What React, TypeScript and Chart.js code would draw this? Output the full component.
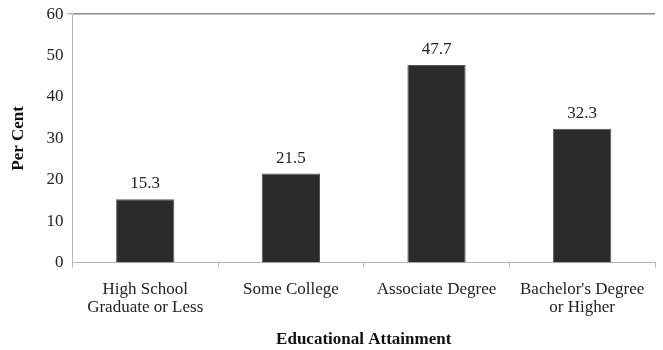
import React, { useEffect, useRef } from "react";
import { Chart, registerables } from "chart.js";

Chart.register(...registerables);

const categories: (string | string[])[] = [
  ["High School", "Graduate or Less"],
  "Some College",
  "Associate Degree",
  ["Bachelor's Degree", "or Higher"],
];
const values = [15.3, 21.5, 47.7, 32.3];
const yTicks = [0, 10, 20, 30, 40, 50, 60];

const FONT = "'Liberation Serif', 'Times New Roman', serif";

const valueLabels = {
  id: "valueLabels",
  afterDatasetsDraw(chart: any) {
    const ctx = chart.ctx;
    const meta = chart.getDatasetMeta(0);
    ctx.save();
    ctx.font = `17px ${FONT}`;
    ctx.fillStyle = "#222";
    ctx.textAlign = "center";
    ctx.textBaseline = "alphabetic";
    meta.data.forEach((bar: any, i: number) => {
      ctx.fillText(values[i].toFixed(1), bar.x, bar.y - 11);
    });
    ctx.restore();
  },
};

export default function App() {
  const ref = useRef<HTMLCanvasElement>(null);
  useEffect(() => {
    if (!ref.current) return;
    const chart = new Chart(ref.current, {
      type: "bar",
      data: {
        labels: categories,
        datasets: [
          {
            data: values,
            backgroundColor: "#2b2b2b",
            borderColor: "#555",
            borderWidth: 1,
            barPercentage: 0.4,
            categoryPercentage: 1,
          },
        ],
      },
      options: {
        animation: false,
        responsive: false,
        maintainAspectRatio: false,
        layout: { padding: { top: 10, right: 8, left: 8, bottom: 0 } },
        plugins: {
          legend: { display: false },
          tooltip: { enabled: false },
        },
        scales: {
          x: {
            border: { color: "#b5b5b5", width: 1 },
            grid: {
              offset: true,
              drawOnChartArea: false,
              drawTicks: true,
              tickLength: 5,
              tickColor: "#b5b5b5",
            },
            ticks: {
              font: { family: FONT, size: 17, lineHeight: 1.06 },
              color: "#222",
              maxRotation: 0,
              autoSkip: false,
              padding: 13,
            },
            title: {
              display: true,
              text: "Educational Attainment",
              font: { family: FONT, size: 17, weight: "bold" },
              color: "#111",
              padding: { top: 0, bottom: 0 },
            },
          },
          y: {
            min: 0,
            max: 60,
            afterBuildTicks: (axis: any) => {
              axis.ticks = yTicks.map((v) => ({ value: v }));
            },
            border: { color: "#b5b5b5", width: 1 },
            grid: {
              color: (c: any) => (c.tick && c.tick.value === 60 ? "#8c8c8c" : "rgba(0,0,0,0)"),
              lineWidth: (c: any) => (c.tick && c.tick.value === 60 ? 1.5 : 0),
              tickColor: "#b5b5b5",
              tickLength: 5,
              drawTicks: true,
            },
            ticks: {
              font: { family: FONT, size: 17 },
              color: "#222",
              padding: 4,
            },
            title: {
              display: true,
              text: "Per Cent",
              font: { family: FONT, size: 17, weight: "bold" },
              color: "#111",
              padding: { top: 0, bottom: 14 },
            },
          },
        },
      },
      plugins: [valueLabels],
    });
    return () => chart.destroy();
  }, []);
  return (
    <div style={{ position: "fixed", left: 0, top: 0, width: 663, height: 350, background: "#fff" }}>
      <canvas ref={ref} width={663} height={350} style={{ display: "block" }} />
    </div>
  );
}
